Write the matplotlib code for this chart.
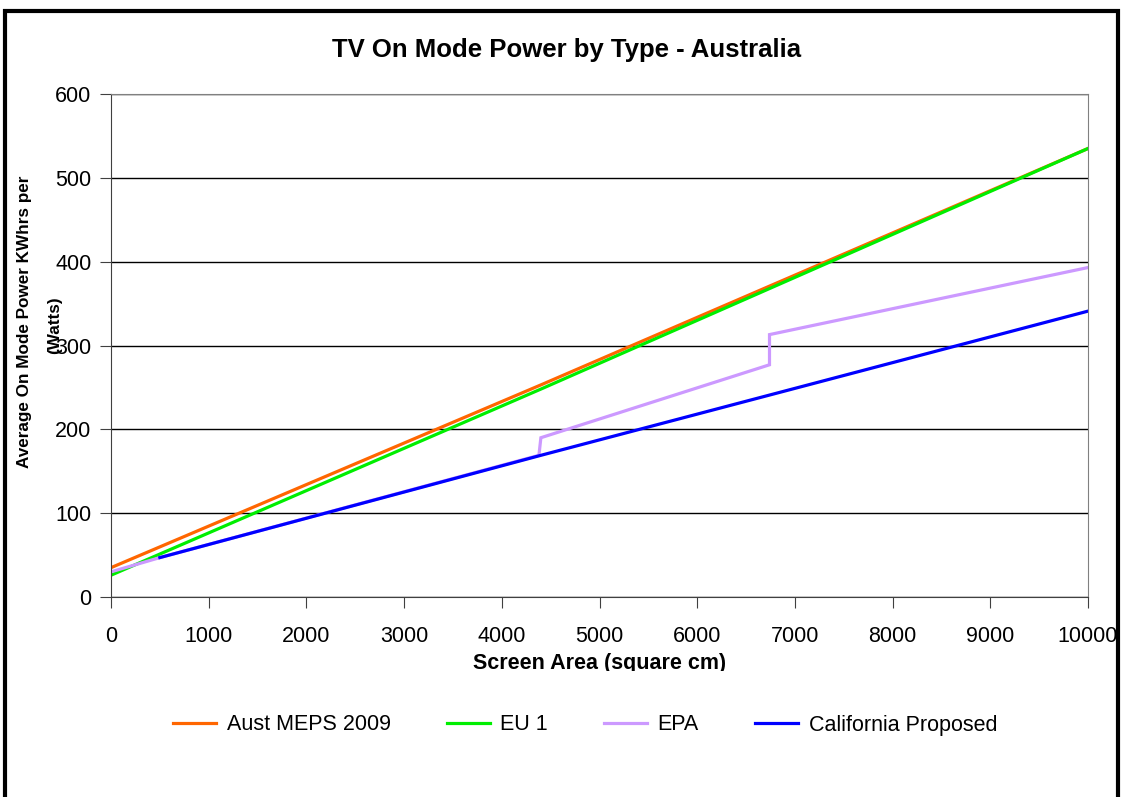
import matplotlib
matplotlib.use("Agg")
import matplotlib.pyplot as plt
from matplotlib.patches import Rectangle
from matplotlib.transforms import Bbox, TransformedBbox

plt.rcParams['font.family'] = ['Liberation Sans', 'DejaVu Sans']

# screen area (sq cm) vs on mode power (W)
aust_x = [0, 4400, 10000]
aust_y = [35, 253, 535]
eu_x = [0, 4400, 10000]
eu_y = [26, 248, 535]
epa_x = [0, 500, 4380, 4400, 6740, 6740, 10000]
epa_y = [30, 47, 169, 190, 277, 313, 393]
cal_x = [500, 4400, 10000]
cal_y = [47, 169, 341]

names = ['Aust MEPS 2009', 'EU 1', 'EPA', 'California Proposed']
colors = ['#FF6600', '#00EE00', '#CC99FF', '#0000FF']

W, H = 1121, 797
fig = plt.figure(figsize=(W / 100, H / 100), dpi=100)
ax = fig.add_axes([111 / W, 1 - 597 / H, (1088 - 111) / W, (597 - 94) / H])

series = [(aust_x, aust_y), (eu_x, eu_y), (epa_x, epa_y), (cal_x, cal_y)]
for (xs, ys), name, c in zip(series, names, colors):
    ax.plot(xs, ys, color=c, lw=2.3, label=name, solid_joinstyle='miter')

ax.set_xlim(0, 10000)
ax.set_ylim(0, 600)
ax.set_xticks(range(0, 10001, 1000))
ax.set_yticks(range(0, 601, 100))
ax.yaxis.grid(True, color='black', lw=1)
ax.set_axisbelow(True)
for s in ax.spines.values():
    s.set_color('#808080')
ax.spines['left'].set_color('#404040')
ax.spines['bottom'].set_color('#404040')
ax.tick_params(axis='both', labelsize=15.5, length=8, color='#404040', direction='out')
ax.tick_params(axis='y', pad=6)
ax.tick_params(axis='x', pad=13)

# x label, cut off by the legend area
xl = fig.text(600 / W, 1 - 663 / H, 'Screen Area (square cm)', ha='center', va='center',
              fontsize=15.5, fontweight='bold')
xl.set_clip_box(TransformedBbox(Bbox([[0, 1 - 671 / H], [1, 1]]), fig.transFigure))
xl.set_clip_on(True)

# y label, two lines, first one clipped at the top
yl = fig.text(25 / W, 1 - 468 / H, 'Average On Mode Power KWhrs per year', rotation=90,
              ha='center', va='bottom', fontsize=12.3, fontweight='bold')
yl.set_clip_box(TransformedBbox(Bbox([[0, 0], [1, 1 - 176 / H]]), fig.transFigure))
yl.set_clip_on(True)
fig.text(55 / W, 1 - 325 / H, '(Watts)', rotation=90, ha='center', va='center',
         fontsize=12.3, fontweight='bold')

fig.text(567 / W, 1 - 50 / H, 'TV On Mode Power by Type - Australia', ha='center',
         va='center', fontsize=18.5, fontweight='bold')

fig.legend(loc='center', bbox_to_anchor=(585 / W, 1 - 725 / H), ncol=4, frameon=False,
           fontsize=15.5, handlelength=2.0, columnspacing=2.6, handletextpad=0.5)

fig.patches.append(Rectangle((5 / W, -0.1), 1113 / W, 1.1 - 11 / H, transform=fig.transFigure,
                             fill=False, edgecolor='black', lw=3, clip_on=False))

fig.savefig('out.png', dpi=100)
